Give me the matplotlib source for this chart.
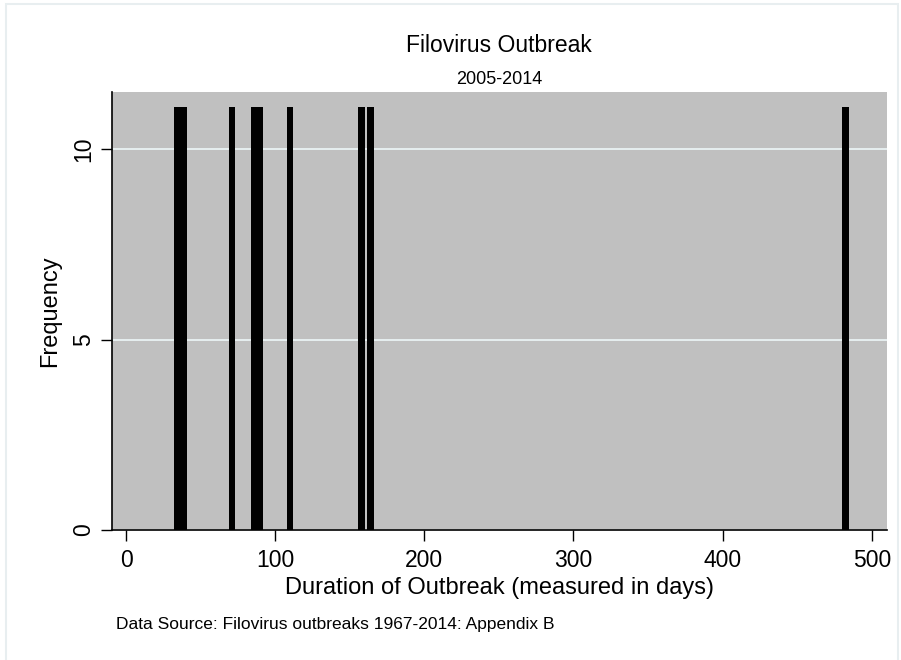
import matplotlib
matplotlib.use("Agg")
import matplotlib.pyplot as plt
from matplotlib.patches import Rectangle

# Outbreak durations (days) and bar heights
durations = [34.5, 38.5, 71, 86, 90, 110, 158, 164, 482.5]
frequency = [11.1, 11.1, 11.1, 11.1, 11.1, 11.1, 11.1, 11.1, 11.1]
bin_width = 4.3

x_ticks = [0, 100, 200, 300, 400, 500]
y_ticks = [0, 5, 10]

plt.rcParams["font.family"] = ["Liberation Sans", "DejaVu Sans"]

fig = plt.figure(figsize=(9.01, 6.6), dpi=100)
fig.patches.append(Rectangle((6 / 901, -0.1), 892 / 901, 1.1 - 4 / 660,
                             transform=fig.transFigure, fill=False,
                             edgecolor="#e8eef0", linewidth=1.5))

ax = fig.add_axes([111.7 / 901, 130 / 660, 775 / 901, 438 / 660])
ax.set_facecolor("#c0c0c0")
ax.bar(durations, frequency, width=bin_width, color="black",
       edgecolor="black", linewidth=0, zorder=3)

ax.set_xlim(-9.6, 510)
ax.set_ylim(0, 11.5)
ax.set_xticks(x_ticks)
ax.set_yticks(y_ticks)
ax.set_yticklabels([str(v) for v in y_ticks], rotation=90, va="center")
ax.tick_params(axis="both", labelsize=16.5, length=8, width=1, direction="out")
ax.tick_params(axis="x", pad=6)
ax.tick_params(axis="y", pad=4)
ax.grid(axis="y", color="#eaf2f3", linewidth=1.3, zorder=1)
ax.grid(axis="x", visible=False)

for side in ["top", "right"]:
    ax.spines[side].set_visible(False)
for side in ["left", "bottom"]:
    ax.spines[side].set_linewidth(1.2)

ax.set_xlabel("Duration of Outbreak (measured in days)", fontsize=17,
              labelpad=3)
ax.set_ylabel("Frequency", fontsize=17, labelpad=8)

fig.text(499 / 901, 1 - 46 / 660, "Filovirus Outbreak", ha="center",
         va="center", fontsize=16.5)
fig.text(499 / 901, 1 - 79 / 660, "2005-2014", ha="center", va="center",
         fontsize=13)
fig.text(116 / 901, 1 - 624 / 660, "Data Source: Filovirus outbreaks 1967-2014: Appendix B",
         ha="left", va="center", fontsize=12.5)

fig.savefig("out.png", dpi=100)
